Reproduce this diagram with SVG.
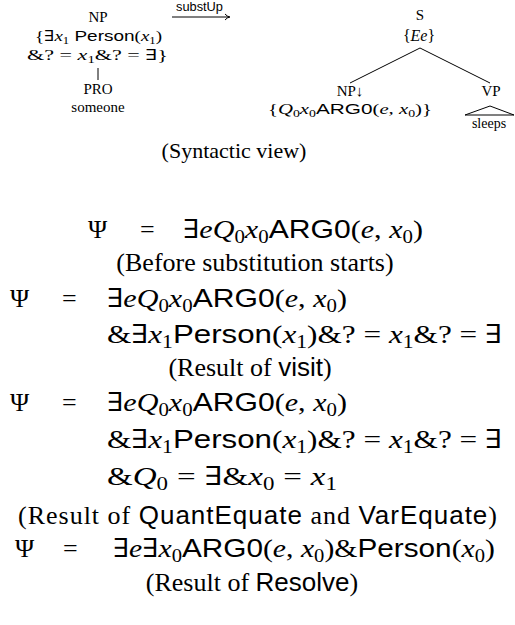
<svg xmlns="http://www.w3.org/2000/svg" width="515" height="625" viewBox="0 0 515 625">
<style>
text{font-family:"Liberation Serif","DejaVu Serif",serif;fill:#000}
.sm{font-size:15px}
.m{font-size:26px}
.i{font-style:italic}
.s{font-family:"Liberation Sans","DejaVu Sans",sans-serif}
.sub{font-size:18px}
.ssub{font-size:10px}
.edge{stroke:#000;stroke-width:1;fill:none}
</style>
<rect width="515" height="625" fill="#fff"/>
<g id="connectors">
<line class="edge" x1="98" y1="68" x2="98" y2="80"/>
<line class="edge" x1="420" y1="48" x2="350" y2="83"/>
<line class="edge" x1="420" y1="48" x2="490" y2="83"/>
<path class="edge" d="M465,115 L490,106 L514,115 Z"/>
<line class="edge" x1="172" y1="17" x2="229" y2="17"/>
<path class="edge" d="M225,14 Q227,16.5 230,17 Q227,17.5 225,20"/>
<text class="s" x="176" y="11" font-size="12" textLength="47" lengthAdjust="spacingAndGlyphs">substUp</text>
</g>
<g id="np">
<text class="sm" x="98" y="22" text-anchor="middle">NP</text>
<text class="sm" x="35" y="41" textLength="127" lengthAdjust="spacingAndGlyphs">{∃<tspan class="i">x</tspan><tspan class="ssub" dy="3">1</tspan><tspan class="s" dy="-3"> Person</tspan>(<tspan class="i">x</tspan><tspan class="ssub" dy="3">1</tspan><tspan dy="-3">)</tspan></text>
<text class="sm" x="27" y="60" textLength="141" lengthAdjust="spacingAndGlyphs">&amp;? = <tspan class="i">x</tspan><tspan class="ssub" dy="3">1</tspan><tspan dy="-3">&amp;? = ∃}</tspan></text>
</g>
<g id="pro">
<text class="sm" x="98" y="94" text-anchor="middle">PRO</text>
<text class="sm" x="98" y="112" text-anchor="middle">someone</text>
</g>
<g id="s">
<text class="sm" x="420" y="20" text-anchor="middle">S</text>
<text x="419" y="41" font-size="16" text-anchor="middle">{<tspan class="i">Ee</tspan>}</text>
</g>
<g id="np2">
<text class="sm" x="350" y="96" text-anchor="middle">NP↓</text>
<text class="sm" x="268" y="114" textLength="164" lengthAdjust="spacingAndGlyphs">{<tspan class="i">Q</tspan><tspan class="ssub" dy="3">0</tspan><tspan class="i" dy="-3">x</tspan><tspan class="ssub" dy="3">0</tspan><tspan class="s" dy="-3">ARG0</tspan>(<tspan class="i">e</tspan>, <tspan class="i">x</tspan><tspan class="ssub" dy="3">0</tspan><tspan dy="-3">)}</tspan></text>
</g>
<g id="vp">
<text class="sm" x="491" y="96" text-anchor="middle">VP</text>
<text x="489" y="128" text-anchor="middle" font-size="14">sleeps</text>
</g>
<g id="caption1">
<text x="234" y="158" text-anchor="middle" font-size="22">(Syntactic view)</text>
</g>
<g id="eq1">
<text class="m" x="88" y="238">Ψ</text>
<text class="m" x="140" y="238">=</text>
<text class="m" x="183" y="238" textLength="240" lengthAdjust="spacingAndGlyphs">∃<tspan class="i">eQ</tspan><tspan class="sub" dy="5">0</tspan><tspan class="i" dy="-5">x</tspan><tspan class="sub" dy="5">0</tspan><tspan class="s" dy="-5">ARG0</tspan>(<tspan class="i">e</tspan>, <tspan class="i">x</tspan><tspan class="sub" dy="5">0</tspan><tspan dy="-5">)</tspan></text>
<text class="m" x="255" y="271" text-anchor="middle">(Before substitution starts)</text>
</g>
<g id="eq2">
<text class="m" x="10" y="307">Ψ</text>
<text class="m" x="62" y="307">=</text>
<text class="m" x="107" y="307" textLength="240" lengthAdjust="spacingAndGlyphs">∃<tspan class="i">eQ</tspan><tspan class="sub" dy="5">0</tspan><tspan class="i" dy="-5">x</tspan><tspan class="sub" dy="5">0</tspan><tspan class="s" dy="-5">ARG0</tspan>(<tspan class="i">e</tspan>, <tspan class="i">x</tspan><tspan class="sub" dy="5">0</tspan><tspan dy="-5">)</tspan></text>
<text class="m" x="107" y="343" textLength="395" lengthAdjust="spacingAndGlyphs">&amp;∃<tspan class="i">x</tspan><tspan class="sub" dy="5">1</tspan><tspan class="s" dy="-5">Person</tspan>(<tspan class="i">x</tspan><tspan class="sub" dy="5">1</tspan><tspan dy="-5">)&amp;? = </tspan><tspan class="i">x</tspan><tspan class="sub" dy="5">1</tspan><tspan dy="-5">&amp;? = ∃</tspan></text>
<text class="m" x="250" y="376" text-anchor="middle">(Result of <tspan class="s">visit</tspan>)</text>
</g>
<g id="eq3">
<text class="m" x="10" y="411">Ψ</text>
<text class="m" x="62" y="411">=</text>
<text class="m" x="107" y="411" textLength="240" lengthAdjust="spacingAndGlyphs">∃<tspan class="i">eQ</tspan><tspan class="sub" dy="5">0</tspan><tspan class="i" dy="-5">x</tspan><tspan class="sub" dy="5">0</tspan><tspan class="s" dy="-5">ARG0</tspan>(<tspan class="i">e</tspan>, <tspan class="i">x</tspan><tspan class="sub" dy="5">0</tspan><tspan dy="-5">)</tspan></text>
<text class="m" x="107" y="448" textLength="395" lengthAdjust="spacingAndGlyphs">&amp;∃<tspan class="i">x</tspan><tspan class="sub" dy="5">1</tspan><tspan class="s" dy="-5">Person</tspan>(<tspan class="i">x</tspan><tspan class="sub" dy="5">1</tspan><tspan dy="-5">)&amp;? = </tspan><tspan class="i">x</tspan><tspan class="sub" dy="5">1</tspan><tspan dy="-5">&amp;? = ∃</tspan></text>
<text class="m" x="107" y="485" textLength="230" lengthAdjust="spacingAndGlyphs">&amp;<tspan class="i">Q</tspan><tspan class="sub" dy="5">0</tspan><tspan dy="-5" dx="7">=</tspan><tspan dx="7">∃&amp;</tspan><tspan class="i">x</tspan><tspan class="sub" dy="5">0</tspan><tspan dy="-5" dx="7">=</tspan><tspan class="i" dx="7">x</tspan><tspan class="sub" dy="5">1</tspan></text>
<text class="m" x="18" y="524" textLength="479" lengthAdjust="spacing">(Result of <tspan class="s">QuantEquate</tspan> and <tspan class="s">VarEquate</tspan>)</text>
</g>
<g id="eq4">
<text class="m" x="15" y="557">Ψ</text>
<text class="m" x="63" y="557">=</text>
<text class="m" x="113" y="557" textLength="382" lengthAdjust="spacingAndGlyphs">∃<tspan class="i">e</tspan>∃<tspan class="i">x</tspan><tspan class="sub" dy="5">0</tspan><tspan class="s" dy="-5">ARG0</tspan>(<tspan class="i">e</tspan>, <tspan class="i">x</tspan><tspan class="sub" dy="5">0</tspan><tspan dy="-5">)&amp;</tspan><tspan class="s">Person</tspan>(<tspan class="i">x</tspan><tspan class="sub" dy="5">0</tspan><tspan dy="-5">)</tspan></text>
<text class="m" x="252" y="591" text-anchor="middle">(Result of <tspan class="s">Resolve</tspan>)</text>
</g>
</svg>
